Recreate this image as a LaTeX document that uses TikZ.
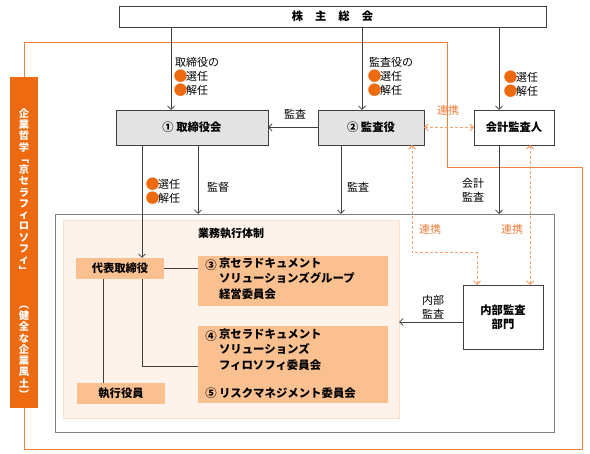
\documentclass[tikz,border=0pt]{standalone}
\usepackage{fontspec}
\setmainfont{Noto Sans CJK JP}
\usetikzlibrary{arrows.meta}
\definecolor{orD}{HTML}{EE6A10}
\definecolor{orL}{HTML}{EE7E3C}
\definecolor{orDash}{HTML}{F3A06A}
\definecolor{peach}{HTML}{FBC090}
\definecolor{inner}{HTML}{FDF3EB}
\definecolor{innerB}{HTML}{F8E0CC}
\definecolor{grayF}{HTML}{E3E3E3}
\definecolor{lineC}{HTML}{404040}
\newcommand{\dotO}{\makebox[11pt][c]{\raisebox{-1.2pt}{\fontsize{14}{14}\selectfont\textcolor{orD}{●}}}}
\begin{document}
\begin{tikzpicture}[x=1pt,y=-1pt,
  every node/.style={inner sep=0pt, outer sep=0pt},
  box/.style={draw=lineC, line width=0.8pt, font=\bfseries\fontsize{11.3}{14}\selectfont, align=center},
  gbox/.style={box, fill=grayF},
  pbox/.style={fill=peach, font=\bfseries\fontsize{11.3}{15.5}\selectfont},
  ptext/.style={font=\bfseries\fontsize{11.4}{15.5}\selectfont},
  lbl/.style={font=\fontsize{11}{14}\selectfont, text=black},
  olbl/.style={font=\fontsize{11}{14}\selectfont, text=orL},
  arr/.style={draw=lineC, line width=0.8pt, -{Straight Barb[length=3.5pt,width=7pt]}},
  conn/.style={draw=lineC, line width=0.8pt},
  dashlink/.style={draw=orDash, line width=1pt, dash pattern=on 3pt off 2pt, {Straight Barb[length=3.5pt,width=7pt]}-{Straight Barb[length=3.5pt,width=7pt]}},
  oline/.style={draw=orL, line width=1pt}
]
\useasboundingbox (0,0) rectangle (590,454);
\fill[white] (0,0) rectangle (590,454);

% orange bar
\node[fill=orD, minimum width=28pt, minimum height=331pt] (bar) at (24,242.5) {};
\node[text=white, font=\bfseries\fontsize{10.3}{11.24}\selectfont, align=center] (bartext) at (24,253.5)
 {企\\業\\哲\\学\\﹁\\京\\セ\\ラ\\フ\\ィ\\ロ\\ソ\\フ\\ィ\\﹂\\~\\~\\︵\\健\\全\\な\\企\\業\\風\\土\\︶};

% orange loop
\draw[oline] (bar.north) -- (24,43) -- (447,43) -- (447,168) -- (582,168) -- (582,450) -- (24,450) -- (bar.south);

% frames
\node[draw=gray, line width=0.8pt, minimum width=499pt, minimum height=218pt, fill=white] (frame) at (304.5,323) {};
\node[draw=innerB, fill=inner, line width=0.6pt, minimum width=336pt, minimum height=198pt] (inreg) at (231,319) {};
\node[font=\bfseries\fontsize{11}{12}\selectfont] (inlbl) at (231,233) {業務執行体制};

% top boxes
\node[box, fill=white, minimum width=427pt, minimum height=21pt] (agm) at (332.5,16.5) {株\hspace{12pt}主\hspace{12pt}総\hspace{12pt}会};
\node[gbox, minimum width=152pt, minimum height=35pt] (bod) at (192,127.5) {① 取締役会};
\node[gbox, minimum width=106pt, minimum height=35pt] (kas) at (371,127.5) {② 監査役};
\node[box, fill=white, minimum width=80pt, minimum height=35pt] (acc) at (514,127.5) {会計監査人};

% inner boxes
\node[pbox, minimum width=88pt, minimum height=21pt] (rep) at (120,268.5) {代表取締役};
\node[pbox, minimum width=88pt, minimum height=21pt] (exe) at (121,393.5) {執行役員};
\node[pbox, minimum width=190pt, minimum height=50pt] (c3) at (293,281) {};
\node[pbox, minimum width=190pt, minimum height=77pt] (c45) at (293,364.5) {};
\node[ptext] (n3) at (211,265) {③};
\node[ptext, align=left, anchor=north west] (t3) at (219,257.5) {京セラドキュメント\\ソリューションズグループ\\経営委員会};
\node[ptext] (n4) at (211,336) {④};
\node[ptext, align=left, anchor=north west] (t4) at (219,328.5) {京セラドキュメント\\ソリューションズ\\フィロソフィ委員会};
\node[ptext] (n5) at (211,393) {⑤};
\node[ptext, anchor=west] (t5) at (219,393) {リスクマネジメント委員会};

\node[box, fill=white, minimum width=80pt, minimum height=64pt] (ia) at (503,317) {内部監査\\部門};

% coordinates
\coordinate (x171) at (171,0);
\coordinate (x362) at (362,0);
\coordinate (x499) at (499,0);
\coordinate (x142) at (142,0);
\coordinate (x198) at (198,0);
\coordinate (x341) at (341,0);
\coordinate (x103) at (103,0);
\coordinate (x412) at (412,0);
\coordinate (x477) at (477,0);
\coordinate (x530) at (530,0);
\coordinate (y322) at (0,322);
\coordinate (y366) at (0,366);
\coordinate (y253) at (0,253);

% connectors
\draw[arr] (agm.south -| x171) -- (bod.north -| x171);
\draw[arr] (agm.south -| x362) -- (kas.north -| x362);
\draw[arr] (agm.south -| x499) -- (acc.north -| x499);
\draw[arr] (kas.west) -- (bod.east);
\draw[dashlink] (kas.east) -- (acc.west);
\draw[arr] (bod.south -| x142) -- (rep.north -| x142);
\draw[arr] (bod.south -| x198) -- (frame.north -| x198);
\draw[arr] (kas.south -| x341) -- (frame.north -| x341);
\draw[arr] (acc.south -| x499) -- (frame.north -| x499);
\draw[conn] (rep.east) -- (rep.east -| c3.west);
\draw[conn] (rep.south -| x142) -- (x142 |- y366) -- (c45.west |- y366);
\draw[conn] (rep.south -| x103) -- (exe.north -| x103);
\draw[arr] (ia.west |- y322) -- (inreg.east |- y322);
\draw[dashlink] (kas.south -| x412) -- (x412 |- y253) -- (x477 |- y253) -- (ia.north -| x477);
\draw[dashlink] (acc.south -| x530) -- (ia.north -| x530);

% labels
\node[lbl, align=left, anchor=north west] (l1) at (175,57) {取締役の\\\dotO 選任\\\dotO 解任};
\node[lbl, align=left, anchor=north west] (l2) at (369,57) {監査役の\\\dotO 選任\\\dotO 解任};
\node[lbl, align=left, anchor=north west] (l3) at (505,71) {\dotO 選任\\\dotO 解任};
\node[lbl] (l4) at (295,114) {監査};
\node[olbl] (l5) at (448,110) {連携};
\node[lbl, align=left, anchor=north west] (l6) at (147,178) {\dotO 選任\\\dotO 解任};
\node[lbl] (l7) at (218,187) {監督};
\node[lbl] (l8) at (358,187) {監査};
\node[lbl, align=center] (l9) at (473,190) {会計\\監査};
\node[olbl] (l10) at (430,229) {連携};
\node[olbl] (l11) at (512,229) {連携};
\node[lbl, align=center] (l12) at (433,307) {内部\\監査};
\end{tikzpicture}
\end{document}
